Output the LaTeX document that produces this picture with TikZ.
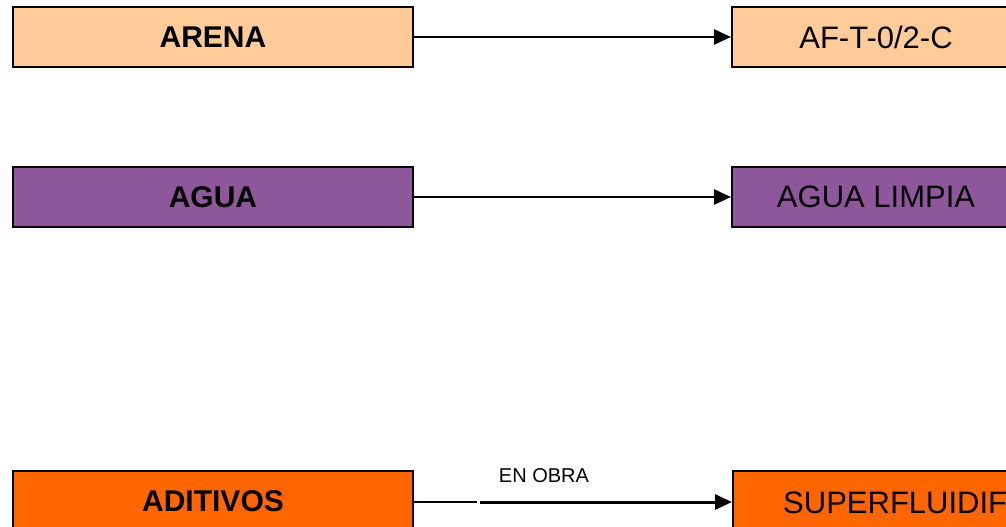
\documentclass[tikz,border=0pt]{standalone}
\usepackage{fontspec}
\setmainfont{Liberation Sans}
\usetikzlibrary{arrows.meta}
\definecolor{peach}{HTML}{FFCC99}
\definecolor{violet}{HTML}{8E579B}
\definecolor{orng}{HTML}{FF6600}
\tikzset{
  box/.style={draw=black, line width=2pt, minimum height=60pt, inner sep=0pt, font=\fontsize{31}{34}\selectfont},
  leftbox/.style={box, minimum width=400pt, font=\fontsize{30}{33}\selectfont\bfseries},
  rightbox/.style={box, minimum width=288pt},
  conn/.style={line width=2.5pt, -{Triangle[length=17pt,width=15pt]}},
}
\begin{document}
\begin{tikzpicture}[x=1pt,y=-1pt]
\useasboundingbox (0,0) rectangle (1006,527);
\clip (0,0) rectangle (1006,527);
\node[leftbox, fill=peach] (arena) at (213,37) {\raisebox{-1pt}{ARENA}};
\node[rightbox, fill=peach] (af) at (876,37) {\raisebox{-1.5pt}{AF-T-0/2-C}};
\node[leftbox, fill=violet] (agua) at (213,197) {\raisebox{-1pt}{AGUA}};
\node[rightbox, fill=violet] (limpia) at (876,197) {\raisebox{-1.5pt}{AGUA LIMPIA}};
\node[leftbox, fill=orng] (aditivos) at (213,501) {\raisebox{-1pt}{ADITIVOS}};
\node[box, fill=orng, minimum width=400pt] (superf) at (933,501) {};
\node[anchor=west, inner sep=0pt, font=\fontsize{31}{34}\selectfont] (superftxt) at (783,503) {SUPERFLUIDIF};
\draw[conn] (arena) -- (af);
\draw[conn] (agua) -- (limpia);
\coordinate (g1) at (477,502);
\coordinate (g2) at (480,502);
\draw[line width=2.5pt] (aditivos.east |- g1) -- (g1);
\draw[conn, line width=3pt] (g2) -- (superf.west |- g2);
\node[font=\fontsize{20}{22}\selectfont, inner sep=0pt] (enobra) at (544,476) {EN OBRA};
\end{tikzpicture}
\end{document}
